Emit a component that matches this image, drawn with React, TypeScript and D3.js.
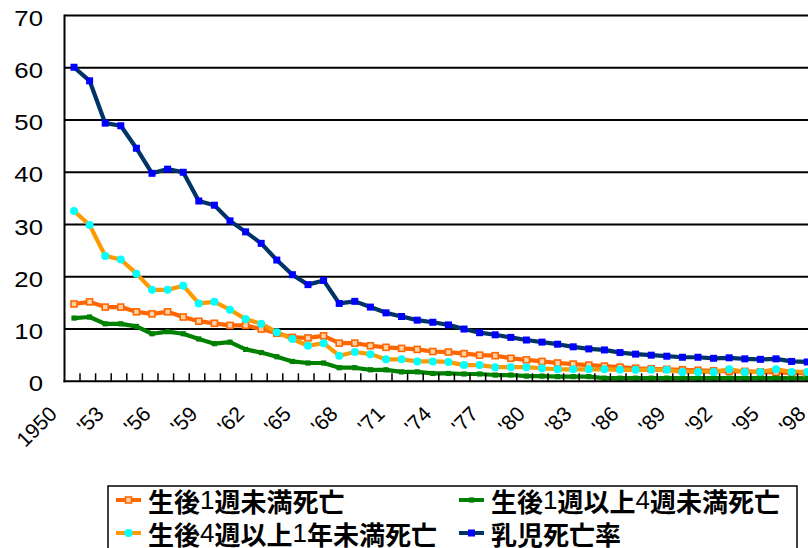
import React from "react";
import * as d3 from "d3";

// 年次（カテゴリ）
const years = [
  1950, 1951, 1952, 1953, 1954, 1955, 1956, 1957, 1958, 1959,
  1960, 1961, 1962, 1963, 1964, 1965, 1966, 1967, 1968, 1969,
  1970, 1971, 1972, 1973, 1974, 1975, 1976, 1977, 1978, 1979,
  1980, 1981, 1982, 1983, 1984, 1985, 1986, 1987, 1988, 1989,
  1990, 1991, 1992, 1993, 1994, 1995, 1996, 1997, 1998,
];

// 生後1週未満死亡
const earlyNeonatal = [
  14.8, 15.2, 14.2, 14.2, 13.3, 12.9, 13.3, 12.3, 11.5, 11.1,
  10.7, 10.7, 10.0, 9.2, 8.4, 8.3, 8.7, 7.3, 7.3, 6.8,
  6.5, 6.3, 6.1, 5.7, 5.6, 5.3, 5.0, 4.9, 4.4, 4.1,
  3.8, 3.5, 3.3, 3.1, 2.9, 2.7, 2.5, 2.4, 2.3, 2.2,
  2.1, 2.0, 1.9, 1.9, 1.8, 1.7, 1.6, 1.5, 1.5,
];

// 生後1週以上4週未満死亡
const lateNeonatal = [
  12.1, 12.3, 11.0, 11.0, 10.5, 9.1, 9.5, 9.1, 8.1, 7.2,
  7.5, 6.1, 5.5, 4.7, 3.8, 3.5, 3.5, 2.6, 2.6, 2.2,
  2.2, 1.8, 1.8, 1.5, 1.5, 1.4, 1.4, 1.2, 1.2, 1.0,
  1.0, 0.9, 0.9, 0.9, 0.6, 0.6, 0.6, 0.6, 0.6, 0.6,
  0.6, 0.6, 0.6, 0.6, 0.6, 0.6, 0.6, 0.6, 0.6,
];

// 生後4週以上1年未満死亡
const postNeonatal = [
  32.6, 29.9, 24.0, 23.3, 20.6, 17.5, 17.5, 18.3, 14.9, 15.2,
  13.7, 11.9, 11.0, 9.4, 8.1, 6.8, 7.3, 4.9, 5.6, 5.2,
  4.2, 4.2, 3.8, 3.8, 3.7, 3.1, 3.1, 2.7, 2.7, 2.7,
  2.5, 2.3, 2.3, 2.3, 2.3, 2.2, 2.2, 2.2, 2.2, 1.8,
  1.8, 1.8, 2.3, 1.8, 1.8, 2.3, 1.8, 1.8, 1.8,
];

// 乳児死亡率
const infant = [
  60.1, 57.5, 49.4, 48.9, 44.6, 39.8, 40.6, 40.0, 34.5, 33.7,
  30.7, 28.6, 26.4, 23.2, 20.4, 18.5, 19.3, 14.9, 15.3, 14.2,
  13.1, 12.4, 11.7, 11.3, 10.8, 10.0, 9.3, 8.9, 8.4, 7.9,
  7.5, 7.1, 6.6, 6.2, 6.0, 5.5, 5.2, 5.0, 4.8, 4.6,
  4.6, 4.4, 4.5, 4.3, 4.2, 4.3, 3.8, 3.7, 3.6,
];

const yTicks = [0, 10, 20, 30, 40, 50, 60, 70];
const xTickYears = [1950, 1953, 1956, 1959, 1962, 1965, 1968, 1971, 1974, 1977, 1980, 1983, 1986, 1989, 1992, 1995, 1998];
const xTickLabels = ["1950", "'53", "'56", "'59", "'62", "'65", "'68", "'71", "'74", "'77", "'80", "'83", "'86", "'89", "'92", "'95", "'98"];

type Marker = "openSquare" | "smallSquare" | "circle" | "square";

interface Series {
  name: string[]; // CJK segments and digit segments
  values: number[];
  line: string;
  marker: Marker;
  markerColor: string;
}

const series: Series[] = [
  { name: ["生後", "1", "週未満死亡"], values: earlyNeonatal, line: "#FF6600", marker: "openSquare", markerColor: "#FF6600" },
  { name: ["生後", "1", "週以上", "4", "週未満死亡"], values: lateNeonatal, line: "#008000", marker: "smallSquare", markerColor: "#008000" },
  { name: ["生後", "4", "週以上", "1", "年未満死亡"], values: postNeonatal, line: "#FF9900", marker: "circle", markerColor: "#00FFFF" },
  { name: ["乳児死亡率"], values: infant, line: "#003366", marker: "square", markerColor: "#0000FF" },
];

const W = 808;
const H = 548;
const plotLeft = 64.5;
const plotTop = 15.5;
const plotBottom = 381.3;
const step = 15.6;
const firstX = 74;

const x = d3
  .scalePoint<number>()
  .domain(years)
  .range([firstX, firstX + step * (years.length - 1)]);
const y = d3.scaleLinear().domain([0, 70]).range([plotBottom, plotTop]);

function drawMarker(kind: Marker, cx: number, cy: number, color: string, key: string) {
  switch (kind) {
    case "openSquare":
      return <rect key={key} x={cx - 3} y={cy - 3} width={6} height={6} fill="#FFD2A6" stroke={color} strokeWidth={1.6} />;
    case "smallSquare":
      return <rect key={key} x={cx - 2.6} y={cy - 2.6} width={5.2} height={5.2} fill={color} />;
    case "circle":
      return <circle key={key} cx={cx} cy={cy} r={4} fill={color} />;
    case "square":
      return <rect key={key} x={cx - 3.5} y={cy - 3.5} width={7} height={7} fill={color} />;
  }
}

function LegendLabel({ parts, x0, y0 }: { parts: string[]; x0: number; y0: number }) {
  return (
    <text x={x0} y={y0} dominantBaseline="central" fontSize={26} fill="#000">
      {parts.map((p, i) =>
        /^\d+$/.test(p) ? (
          <tspan key={i} fontFamily="Liberation Sans, Arial, sans-serif" fontWeight={400}>
            {p}
          </tspan>
        ) : (
          <tspan key={i} fontFamily="Noto Sans CJK JP, sans-serif" fontWeight={700}>
            {p}
          </tspan>
        )
      )}
    </text>
  );
}

export default function App() {
  const line = d3
    .line<number>()
    .x((_, i) => x(years[i]) as number)
    .y((d) => y(d));

  const legendPos = [
    { lx: 116, tx: 148, ty: 500 },
    { lx: 459, tx: 491, ty: 500 },
    { lx: 116, tx: 148, ty: 533 },
    { lx: 459, tx: 491, ty: 533 },
  ];

  const tickXs = years.map((yr) => (x(yr) as number) + 6);

  return (
    <svg
      width={W}
      height={H}
      style={{ position: "absolute", left: 0, top: 0, background: "#fff" }}
      fontFamily="Liberation Sans, Arial, sans-serif"
    >
      <rect x={0} y={0} width={W} height={H} fill="#fff" />

      {/* horizontal gridlines */}
      {yTicks
        .filter((t) => t > 0)
        .map((t) => (
          <line key={t} x1={plotLeft} x2={W + 20} y1={y(t)} y2={y(t)} stroke="#000" strokeWidth={2} />
        ))}

      {/* y-axis labels */}
      {yTicks.map((t) => (
        <g key={t} transform={`translate(43, ${y(t) + 2}) scale(1.12, 1)`}>
          <text textAnchor="end" dominantBaseline="central" fontSize={23} fill="#000">
            {t}
          </text>
        </g>
      ))}

      {/* series lines */}
      {series.map((s) => (
        <path
          key={s.line}
          d={line(s.values) || ""}
          fill="none"
          stroke={s.line}
          strokeWidth={4.2}
          strokeLinejoin="round"
        />
      ))}

      {/* series markers */}
      {series.map((s) =>
        s.values.map((v, i) => drawMarker(s.marker, x(years[i]) as number, y(v), s.markerColor, `${s.line}-${i}`))
      )}

      {/* axes */}
      <line x1={plotLeft} x2={plotLeft} y1={plotTop - 1} y2={plotBottom + 1} stroke="#000" strokeWidth={2} />
      <line x1={plotLeft - 1} x2={W + 20} y1={plotBottom} y2={plotBottom} stroke="#000" strokeWidth={2} />
      {tickXs.map((tx, i) => (
        <line key={i} x1={tx} x2={tx} y1={plotBottom - 8} y2={plotBottom} stroke="#000" strokeWidth={1.5} />
      ))}

      {/* x-axis labels */}
      {xTickYears.map((yr, i) => (
        <text
          key={yr}
          transform={`translate(${(x(yr) as number) - 21}, 410) rotate(-45)`}
          textAnchor="end"
          dominantBaseline="central"
          fontSize={21}
          fill="#000"
        >
          {xTickLabels[i]}
        </text>
      ))}

      {/* legend */}
      <rect x={108} y={486} width={689} height={90} fill="#fff" stroke="#000" strokeWidth={1.5} />
      {series.map((s, i) => {
        const p = legendPos[i];
        return (
          <g key={i}>
            <line x1={p.lx} x2={p.lx + 25} y1={p.ty} y2={p.ty} stroke={s.line} strokeWidth={4} />
            {drawMarker(s.marker, p.lx + 12.5, p.ty, s.markerColor, `lg-${i}`)}
            <LegendLabel parts={s.name} x0={p.tx} y0={p.ty} />
          </g>
        );
      })}
    </svg>
  );
}
